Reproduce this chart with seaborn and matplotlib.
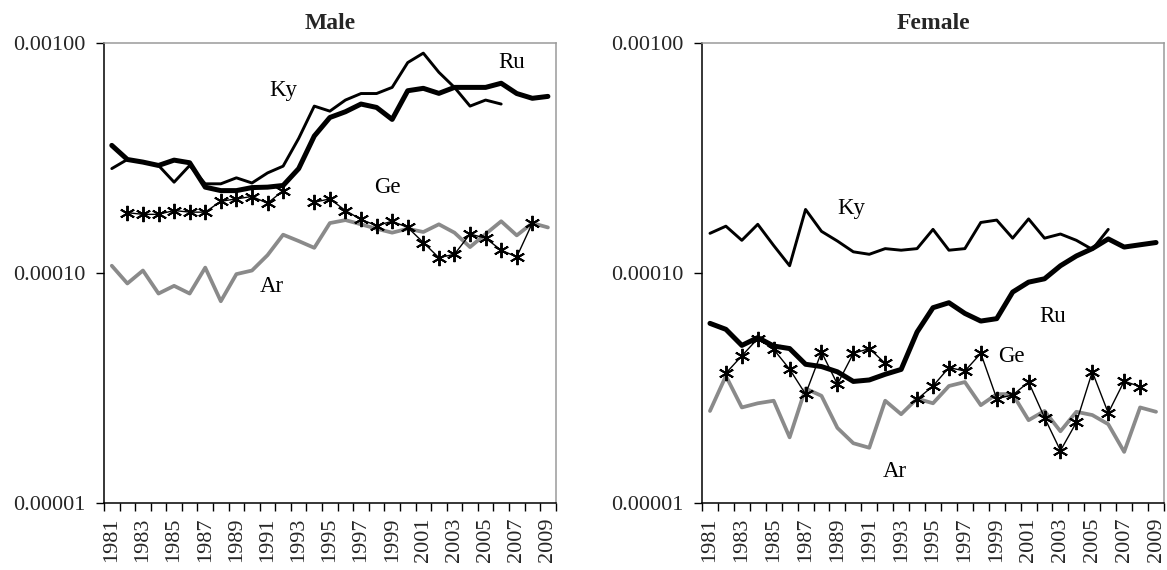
import numpy as np
import pandas as pd
import matplotlib
matplotlib.use("Agg")
import matplotlib.pyplot as plt
import seaborn as sns
from matplotlib.ticker import FixedLocator, FuncFormatter, NullFormatter, FixedFormatter

nan = np.nan
years = list(range(1981, 2010))
year_labels = [str(y) for y in range(1981, 2010, 2)]
panel_titles = ["Male", "Female"]
series_names = ["Ky", "Ru", "Ge", "Ar"]

male_ky = [2.83e-4, 3.10e-4, 3.02e-4, 2.92e-4, 2.47e-4, 2.92e-4, 2.43e-4, 2.43e-4, 2.58e-4, 2.45e-4,
           2.71e-4, 2.90e-4, 3.83e-4, 5.29e-4, 5.03e-4, 5.62e-4, 6.00e-4, 6.00e-4, 6.38e-4, 8.18e-4,
           8.99e-4, 7.42e-4, 6.38e-4, 5.29e-4, 5.62e-4, 5.40e-4, nan, nan, nan]
male_ru = [3.57e-4, 3.10e-4, 3.02e-4, 2.92e-4, 3.08e-4, 3.00e-4, 2.35e-4, 2.27e-4, 2.27e-4, 2.34e-4,
           2.35e-4, 2.39e-4, 2.83e-4, 3.92e-4, 4.72e-4, 5.00e-4, 5.40e-4, 5.22e-4, 4.63e-4, 6.17e-4,
           6.32e-4, 6.01e-4, 6.38e-4, 6.38e-4, 6.38e-4, 6.65e-4, 6.00e-4, 5.72e-4, 5.83e-4]
male_ge = [nan, 1.82e-4, 1.79e-4, 1.79e-4, 1.86e-4, 1.83e-4, 1.83e-4, 2.04e-4, 2.09e-4, 2.14e-4,
           2.00e-4, 2.27e-4, nan, 2.02e-4, 2.09e-4, 1.86e-4, 1.70e-4, 1.60e-4, 1.67e-4, 1.57e-4,
           1.35e-4, 1.16e-4, 1.20e-4, 1.47e-4, 1.41e-4, 1.25e-4, 1.17e-4, 1.64e-4, nan]
male_ar = [1.07e-4, 8.96e-5, 1.02e-4, 8.10e-5, 8.75e-5, 8.10e-5, 1.05e-4, 7.50e-5, 9.84e-5, 1.02e-4,
           1.19e-4, 1.46e-4, 1.37e-4, 1.28e-4, 1.64e-4, 1.69e-4, 1.62e-4, 1.55e-4, 1.49e-4, 1.55e-4,
           1.50e-4, 1.62e-4, 1.49e-4, 1.29e-4, 1.47e-4, 1.67e-4, 1.45e-4, 1.64e-4, 1.57e-4]

female_ky = [1.48e-4, 1.59e-4, 1.38e-4, 1.62e-4, 1.31e-4, 1.07e-4, 1.88e-4, 1.51e-4, 1.37e-4, 1.23e-4,
             1.20e-4, 1.27e-4, 1.25e-4, 1.27e-4, 1.54e-4, 1.25e-4, 1.27e-4, 1.65e-4, 1.69e-4, 1.41e-4,
             1.71e-4, 1.41e-4, 1.47e-4, 1.38e-4, 1.26e-4, 1.54e-4, nan, nan, nan]
female_ru = [6.01e-5, 5.66e-5, 4.82e-5, 5.21e-5, 4.79e-5, 4.67e-5, 3.99e-5, 3.90e-5, 3.70e-5, 3.36e-5,
             3.41e-5, 3.61e-5, 3.79e-5, 5.51e-5, 7.03e-5, 7.39e-5, 6.64e-5, 6.15e-5, 6.30e-5, 8.22e-5,
             9.08e-5, 9.39e-5, 1.07e-4, 1.18e-4, 1.27e-4, 1.40e-4, 1.29e-4, 1.32e-4, 1.35e-4]
female_ge = [nan, 3.65e-5, 4.34e-5, 5.16e-5, 4.63e-5, 3.80e-5, 2.96e-5, 4.51e-5, 3.27e-5, 4.45e-5,
             4.67e-5, 4.03e-5, nan, 2.81e-5, 3.21e-5, 3.86e-5, 3.73e-5, 4.45e-5, 2.83e-5, 2.93e-5,
             3.34e-5, 2.34e-5, 1.68e-5, 2.23e-5, 3.70e-5, 2.45e-5, 3.37e-5, 3.19e-5, nan]
female_ar = [2.50e-5, 3.55e-5, 2.59e-5, 2.70e-5, 2.77e-5, 1.92e-5, 3.13e-5, 2.91e-5, 2.11e-5, 1.81e-5,
             1.73e-5, 2.77e-5, 2.42e-5, 2.83e-5, 2.70e-5, 3.21e-5, 3.34e-5, 2.65e-5, 2.96e-5, 2.96e-5,
             2.28e-5, 2.50e-5, 2.04e-5, 2.48e-5, 2.40e-5, 2.19e-5, 1.66e-5, 2.59e-5, 2.48e-5]

# inline label anchor positions (year, value) for Ky, Ru, Ge, Ar
male_label_pos = [(1992.0, 6.2e-4), (2006.7, 8.2e-4), (1998.7, 2.34e-4), (1991.3, 8.7e-5)]
female_label_pos = [(1989.85, 1.90e-4), (2002.5, 6.45e-5), (1999.9, 4.33e-5), (1992.6, 1.37e-5)]

sns.set_theme(style="white")
plt.rcParams["font.family"] = ["Liberation Serif", "DejaVu Serif"]

fig = plt.figure(figsize=(11.67, 5.70), dpi=100)
ax_m = fig.add_axes([104 / 1167, 1 - 502.5 / 570, (555.7 - 104) / 1167, 460 / 570])
ax_f = fig.add_axes([702 / 1167, 1 - 502.5 / 570, (1164 - 702) / 1167, 460 / 570])

styles = {
    "Ar": dict(color="#8a8a8a", linewidth=2.7),
    "Ky": dict(color="black", linewidth=2.1),
    "Ru": dict(color="black", linewidth=3.6),
    "Ge": dict(color="black", linewidth=1.0, marker=(6, 2, 0), markersize=11,
               markeredgewidth=1.4, markeredgecolor="black"),
}


def draw(ax, values, name):
    df = pd.DataFrame({"year": years, "value": values})
    df["seg"] = df["value"].isna().cumsum()
    df = df.dropna()
    for _, part in df.groupby("seg"):
        sns.lineplot(data=part, x="year", y="value", ax=ax, estimator=None, sort=False,
                     legend=False, **styles[name])


panels = [
    (ax_m, {"Ky": male_ky, "Ru": male_ru, "Ge": male_ge, "Ar": male_ar}, male_label_pos, panel_titles[0]),
    (ax_f, {"Ky": female_ky, "Ru": female_ru, "Ge": female_ge, "Ar": female_ar}, female_label_pos, panel_titles[1]),
]

for ax, data, label_pos, title in panels:
    for name in ["Ar", "Ky", "Ru", "Ge"]:
        draw(ax, data[name], name)
    ax.set_yscale("log")
    ax.set_ylim(1e-5, 1e-3)
    ax.set_xlim(1980.5, 2009.5)
    ax.yaxis.set_major_locator(FixedLocator([1e-5, 1e-4, 1e-3]))
    ax.yaxis.set_major_formatter(FuncFormatter(lambda v, p: f"{v:.5f}"))
    ax.yaxis.set_minor_locator(FixedLocator([]))
    ax.xaxis.set_major_locator(FixedLocator(np.arange(1980.5, 2010.0, 1.0)))
    ax.xaxis.set_major_formatter(NullFormatter())
    ax.xaxis.set_minor_locator(FixedLocator(list(range(1981, 2010, 2))))
    ax.xaxis.set_minor_formatter(FixedFormatter(year_labels))
    ax.tick_params(axis="x", which="major", direction="out", length=6, width=1.0,
                   color="black", bottom=True)
    ax.tick_params(axis="x", which="minor", length=0, pad=11, labelsize=16,
                   labelrotation=90, bottom=True)
    ax.tick_params(axis="y", which="major", direction="out", length=6, width=1.0,
                   color="black", left=True, pad=7, labelsize=16)
    ax.set_xlabel("")
    ax.set_ylabel("")
    ax.grid(False)
    for side in ["left", "bottom"]:
        ax.spines[side].set_color("black")
        ax.spines[side].set_linewidth(1.1)
    for side in ["top", "right"]:
        ax.spines[side].set_color("#9a9a9a")
        ax.spines[side].set_linewidth(1.1)
    ax.set_title(title, fontsize=17, fontweight="bold", pad=10)
    for name, (lx, ly) in zip(series_names, label_pos):
        ax.text(lx, ly, name, fontsize=16.5, ha="center", va="center", color="black")

fig.savefig("out.png", dpi=100)
